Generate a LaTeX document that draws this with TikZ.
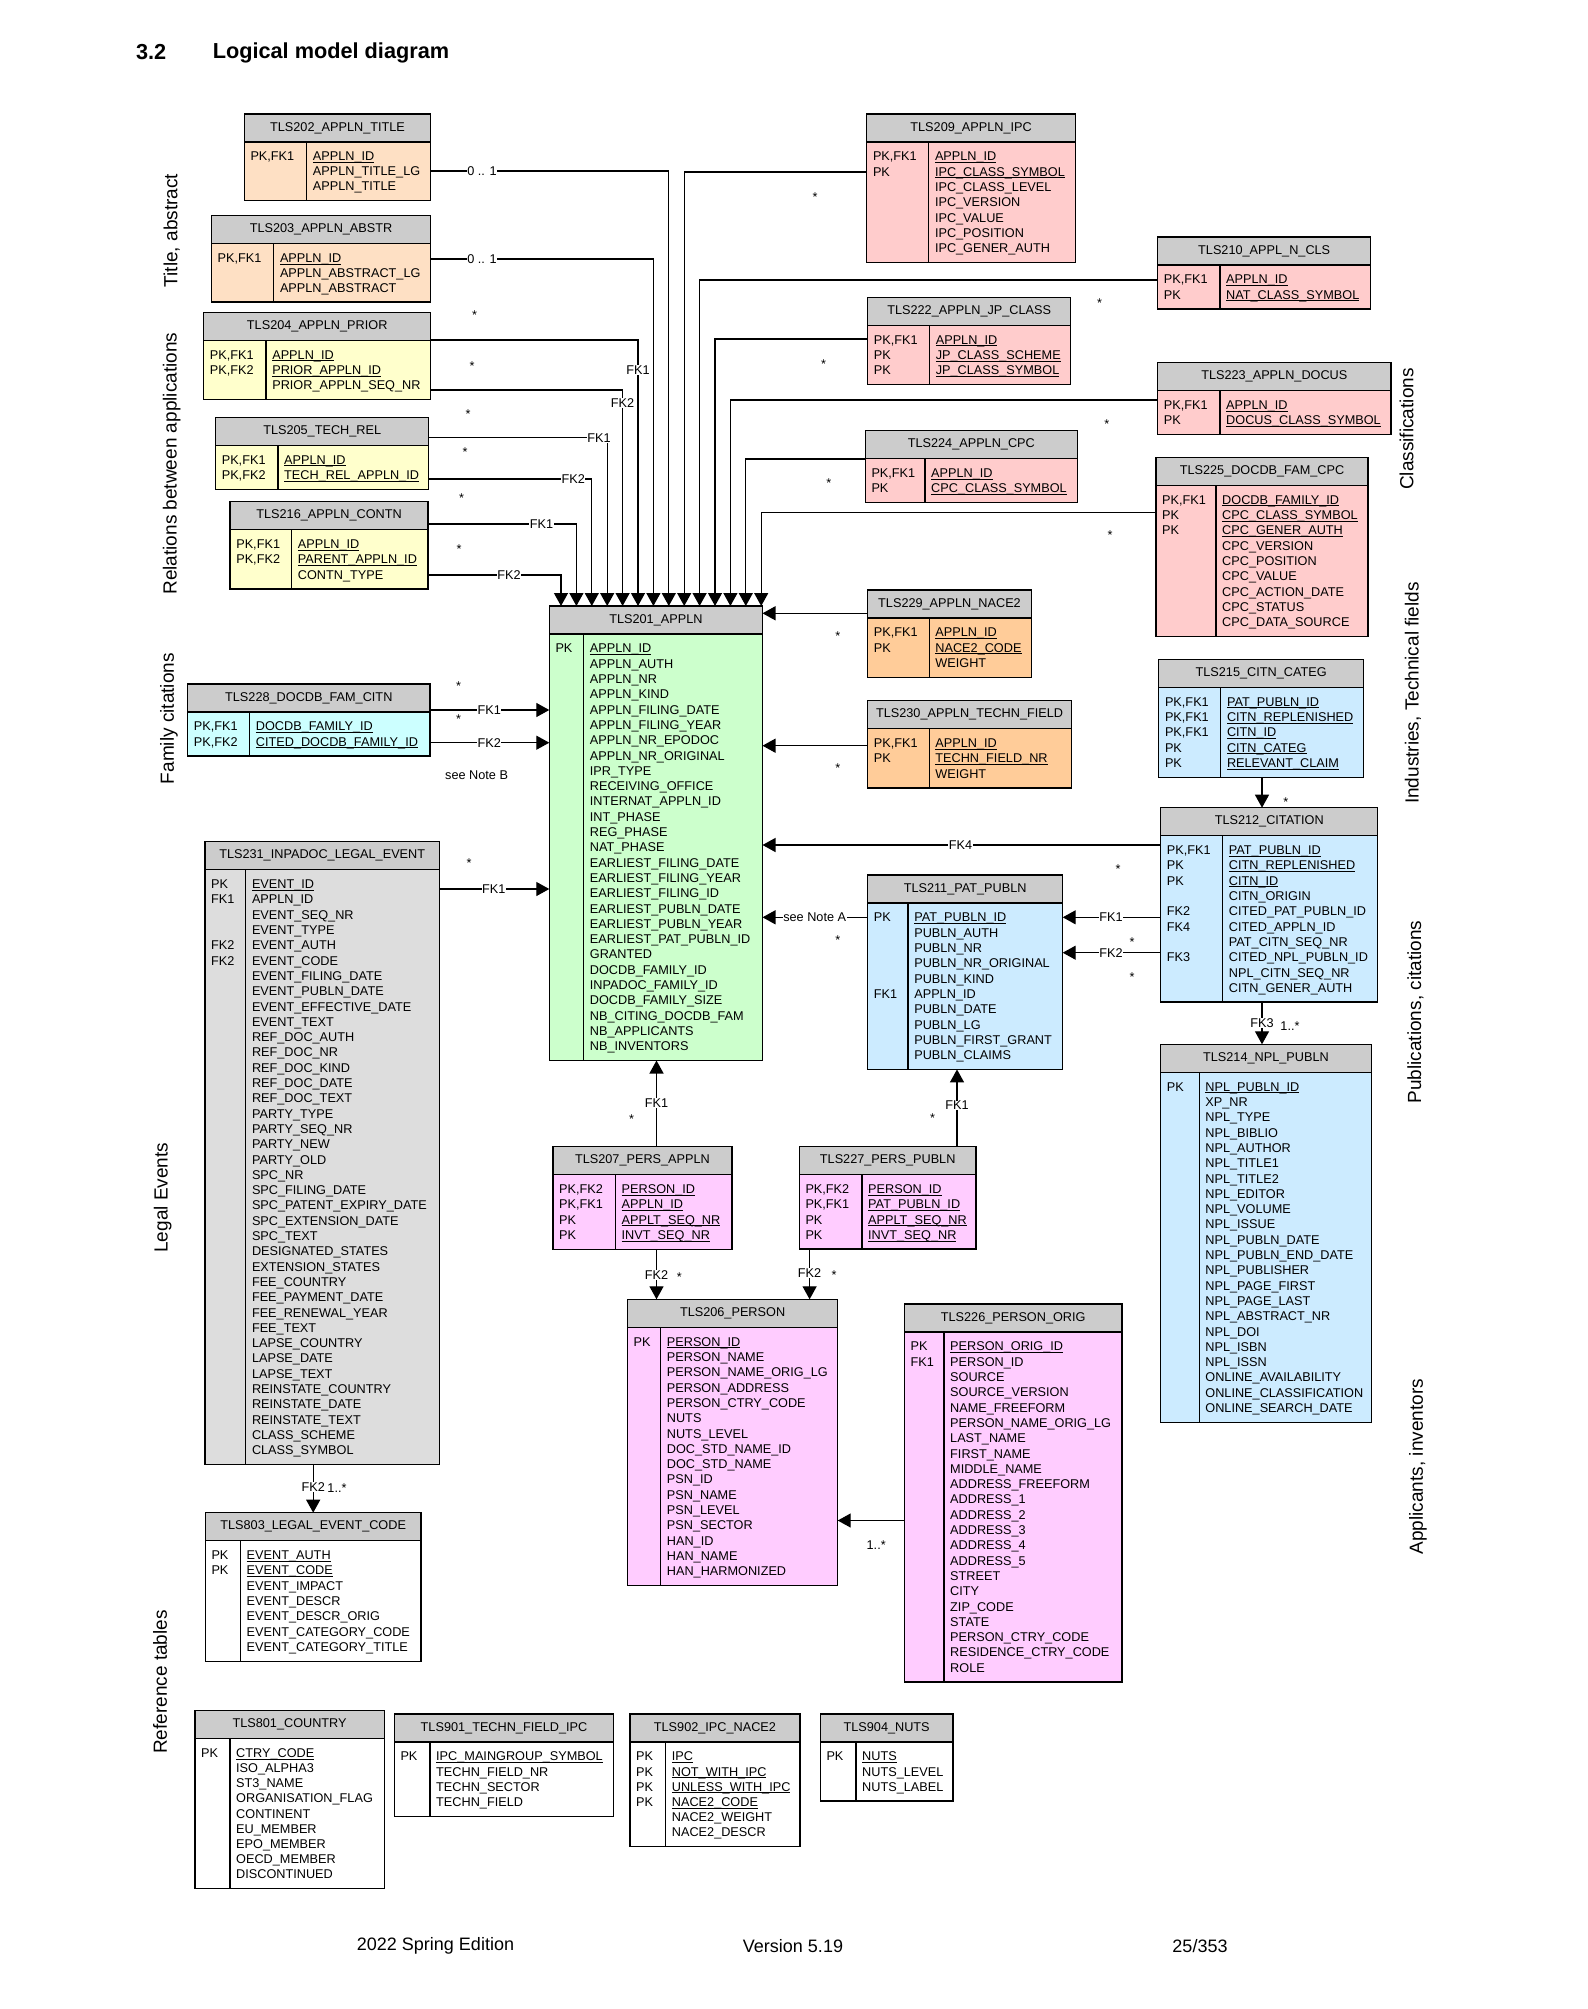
\documentclass[tikz,border=0pt]{standalone}
\usepackage{fontspec}
\setmainfont{Liberation Sans}
\usepackage{tikz}
\usetikzlibrary{arrows.meta,backgrounds}

\definecolor{hdrgray}{HTML}{CCCCCC}
\definecolor{peach}{HTML}{FEE0C4}
\definecolor{lemon}{HTML}{FFFFCC}
\definecolor{rose}{HTML}{FFCCCC}
\definecolor{apricot}{HTML}{FFCC99}
\definecolor{mint}{HTML}{CCFFCC}
\definecolor{aqua}{HTML}{CCFFFF}
\definecolor{ash}{HTML}{DDDDDD}
\definecolor{sky}{HTML}{CCEBFF}
\definecolor{lilac}{HTML}{FFCCFF}

\newcommand{\rowh}{15.3}
\newcommand{\boxtint}{white}
\newcommand{\tblfont}{\fontsize{12.7}{\rowh}\selectfont}
\newcommand{\lblfont}{\fontsize{12.7}{15}\selectfont}
\newcommand{\sidefont}{\fontsize{19}{22}\selectfont}
\newcommand{\headfont}{\fontsize{21.7}{26}\selectfont\bfseries}
\newcommand{\footfont}{\fontsize{18}{21}\selectfont}
\newcommand{\pk}[1]{\leavevmode\setbox0=\hbox{#1}\rlap{\rule[-2pt]{\wd0}{0.8pt}}\box0}

\tikzset{
  rowh/.store in=\rowh,
  bodycol/.store in=\boxtint,
  box/.style={line width=1.3pt},
  hdr/.style={box, draw, fill=hdrgray, minimum height=28, inner sep=0, outer sep=0,
    anchor=north west, font=\tblfont},
  col/.style={inner sep=0, anchor=north west, font=\tblfont},
  fk/.style={line width=1.3pt, -{Triangle[length=13pt,width=14pt]}},
  lbl/.style={fill=white, inner sep=0.6pt, font=\lblfont},
  mult/.style={inner sep=0, font=\lblfont},
  star/.style={inner sep=0, font=\lblfont, yshift=-2.5pt},
  side/.style={rotate=90, inner sep=0, font=\sidefont},
}

% #1 name, #2 x, #3 y, #4 width, #5 key column, #6 options, #7 title, #8 keys, #9 fields
\newcommand{\entity}[9]{%
  \begin{scope}[#6]
    \node[hdr, minimum width=#4] (#1) at (#2,#3) {#7};
    \node[col] (#1-k) at (#2+6,#3+36) {\begin{tabular}{@{}l@{}}#8\end{tabular}};
    \node[col] (#1-f) at (#2+#5+6,#3+36) {\begin{tabular}{@{}l@{}}#9\end{tabular}};
    \coordinate (#1-b) at ([yshift=-5pt]#1-f.south);
    \coordinate (#1-d) at (#2+#5,#3+28);
    \begin{pgfonlayer}{background}
      \draw[box, fill=\boxtint] (#1.south west) rectangle (#1.east |- #1-b);
    \end{pgfonlayer}
    \draw[box] (#1-d) -- (#1-d |- #1-b);
  \end{scope}}

\begin{document}
\begin{tikzpicture}[x=1pt,y=-1pt]
  \useasboundingbox (0,0) rectangle (1587,2009);

  \node[anchor=west, inner sep=0, font=\headfont] (sec) at (135.8,52.5) {3.2};
  \node[anchor=west, inner sep=0, font=\headfont] (ttl) at (212.6,52.5) {Logical model diagram};

  % title, abstract and relations
  \entity{t202}{244.3}{114}{186.4}{62.4}{bodycol=peach, rowh=15}{TLS202\_APPLN\_TITLE}
    {PK,FK1}{\pk{APPLN\_ID}\\APPLN\_TITLE\_LG\\APPLN\_TITLE}
  \entity{t203}{211.4}{215.7}{219.3}{62.4}{bodycol=peach, rowh=15}{TLS203\_APPLN\_ABSTR}
    {PK,FK1}{\pk{APPLN\_ID}\\APPLN\_ABSTRACT\_LG\\APPLN\_ABSTRACT}
  \entity{t204}{203.7}{312.3}{227}{62.4}{bodycol=lemon}{TLS204\_APPLN\_PRIOR}
    {PK,FK1\\PK,FK2}{\pk{APPLN\_ID}\\\pk{PRIOR\_APPLN\_ID}\\PRIOR\_APPLN\_SEQ\_NR}
  \entity{t205}{215.6}{417.3}{213.2}{62.4}{bodycol=lemon}{TLS205\_TECH\_REL}
    {PK,FK1\\PK,FK2}{\pk{APPLN\_ID}\\\pk{TECH\_REL\_APPLN\_ID}}
  \entity{t216}{230.1}{501.7}{197.9}{61.6}{bodycol=lemon}{TLS216\_APPLN\_CONTN}
    {PK,FK1\\PK,FK2}{\pk{APPLN\_ID}\\\pk{PARENT\_APPLN\_ID}\\CONTN\_TYPE}

  % classifications
  \entity{t209}{866.8}{114}{208.6}{62}{bodycol=rose}{TLS209\_APPLN\_IPC}
    {PK,FK1\\PK}{\pk{APPLN\_ID}\\\pk{IPC\_CLASS\_SYMBOL}\\IPC\_CLASS\_LEVEL\\IPC\_VERSION\\IPC\_VALUE\\IPC\_POSITION\\IPC\_GENER\_AUTH}
  \entity{t210}{1157.6}{237}{213.2}{62.4}{bodycol=rose}{TLS210\_APPL\_N\_CLS}
    {PK,FK1\\PK}{\pk{APPLN\_ID}\\\pk{NAT\_CLASS\_SYMBOL}}
  \entity{t222}{867.6}{297.2}{203.2}{62}{bodycol=rose}{TLS222\_APPLN\_JP\_CLASS}
    {PK,FK1\\PK\\PK}{\pk{APPLN\_ID}\\\pk{JP\_CLASS\_SCHEME}\\\pk{JP\_CLASS\_SYMBOL}}
  \entity{t223}{1157.6}{362.5}{233.4}{62.4}{bodycol=rose}{TLS223\_APPLN\_DOCUS}
    {PK,FK1\\PK}{\pk{APPLN\_ID}\\\pk{DOCUS\_CLASS\_SYMBOL}}
  \entity{t224}{865.3}{430.4}{212}{59.7}{bodycol=rose}{TLS224\_APPLN\_CPC}
    {PK,FK1\\PK}{\pk{APPLN\_ID}\\\pk{CPC\_CLASS\_SYMBOL}}
  \entity{t225}{1156}{457.3}{212}{60}{bodycol=rose}{TLS225\_DOCDB\_FAM\_CPC}
    {PK,FK1\\PK\\PK}{\pk{DOCDB\_FAMILY\_ID}\\\pk{CPC\_CLASS\_SYMBOL}\\\pk{CPC\_GENER\_AUTH}\\CPC\_VERSION\\CPC\_POSITION\\CPC\_VALUE\\CPC\_ACTION\_DATE\\CPC\_STATUS\\CPC\_DATA\_SOURCE}

  % industries, technical fields
  \entity{t229}{867.6}{590}{163.8}{61.6}{bodycol=apricot}{TLS229\_APPLN\_NACE2}
    {PK,FK1\\PK}{\pk{APPLN\_ID}\\\pk{NACE2\_CODE}\\WEIGHT}
  \entity{t230}{867.6}{700.7}{203.9}{61.6}{bodycol=apricot}{TLS230\_APPLN\_TECHN\_FIELD}
    {PK,FK1\\PK}{\pk{APPLN\_ID}\\\pk{TECHN\_FIELD\_NR}\\WEIGHT}

  % applications
  \entity{t201}{549.3}{606}{213.2}{34.4}{bodycol=mint}{TLS201\_APPLN}
    {PK}{\pk{APPLN\_ID}\\APPLN\_AUTH\\APPLN\_NR\\APPLN\_KIND\\APPLN\_FILING\_DATE\\APPLN\_FILING\_YEAR\\APPLN\_NR\_EPODOC\\APPLN\_NR\_ORIGINAL\\IPR\_TYPE\\RECEIVING\_OFFICE\\INTERNAT\_APPLN\_ID\\INT\_PHASE\\REG\_PHASE\\NAT\_PHASE\\EARLIEST\_FILING\_DATE\\EARLIEST\_FILING\_YEAR\\EARLIEST\_FILING\_ID\\EARLIEST\_PUBLN\_DATE\\EARLIEST\_PUBLN\_YEAR\\EARLIEST\_PAT\_PUBLN\_ID\\GRANTED\\DOCDB\_FAMILY\_ID\\INPADOC\_FAMILY\_ID\\DOCDB\_FAMILY\_SIZE\\NB\_CITING\_DOCDB\_FAM\\NB\_APPLICANTS\\NB\_INVENTORS}

  % family citations, legal events
  \entity{t228}{187.7}{684}{242.2}{62}{bodycol=aqua}{TLS228\_DOCDB\_FAM\_CITN}
    {PK,FK1\\PK,FK2}{\pk{DOCDB\_FAMILY\_ID}\\\pk{CITED\_DOCDB\_FAMILY\_ID}}
  \entity{t231}{204.9}{841.7}{234.6}{40.9}{bodycol=ash}{TLS231\_INPADOC\_LEGAL\_EVENT}
    {PK\\FK1\\\\\\FK2\\FK2}{\pk{EVENT\_ID}\\APPLN\_ID\\EVENT\_SEQ\_NR\\EVENT\_TYPE\\EVENT\_AUTH\\EVENT\_CODE\\EVENT\_FILING\_DATE\\EVENT\_PUBLN\_DATE\\EVENT\_EFFECTIVE\_DATE\\EVENT\_TEXT\\REF\_DOC\_AUTH\\REF\_DOC\_NR\\REF\_DOC\_KIND\\REF\_DOC\_DATE\\REF\_DOC\_TEXT\\PARTY\_TYPE\\PARTY\_SEQ\_NR\\PARTY\_NEW\\PARTY\_OLD\\SPC\_NR\\SPC\_FILING\_DATE\\SPC\_PATENT\_EXPIRY\_DATE\\SPC\_EXTENSION\_DATE\\SPC\_TEXT\\DESIGNATED\_STATES\\EXTENSION\_STATES\\FEE\_COUNTRY\\FEE\_PAYMENT\_DATE\\FEE\_RENEWAL\_YEAR\\FEE\_TEXT\\LAPSE\_COUNTRY\\LAPSE\_DATE\\LAPSE\_TEXT\\REINSTATE\_COUNTRY\\REINSTATE\_DATE\\REINSTATE\_TEXT\\CLASS\_SCHEME\\CLASS\_SYMBOL}
  \entity{t803}{205.3}{1512.7}{215.8}{35.2}{bodycol=white}{TLS803\_LEGAL\_EVENT\_CODE}
    {PK\\PK}{\pk{EVENT\_AUTH}\\\pk{EVENT\_CODE}\\EVENT\_IMPACT\\EVENT\_DESCR\\EVENT\_DESCR\_ORIG\\EVENT\_CATEGORY\_CODE\\EVENT\_CATEGORY\_TITLE}

  % publications, citations
  \entity{t215}{1158.8}{659.3}{204.7}{62}{bodycol=sky}{TLS215\_CITN\_CATEG}
    {PK,FK1\\PK,FK1\\PK,FK1\\PK\\PK}{\pk{PAT\_PUBLN\_ID}\\\pk{CITN\_REPLENISHED}\\\pk{CITN\_ID}\\\pk{CITN\_CATEG}\\\pk{RELEVANT\_CLAIM}}
  \entity{t212}{1160.7}{807.7}{217}{62}{bodycol=sky}{TLS212\_CITATION}
    {PK,FK1\\PK\\PK\\\\FK2\\FK4\\\\FK3}{\pk{PAT\_PUBLN\_ID}\\\pk{CITN\_REPLENISHED}\\\pk{CITN\_ID}\\CITN\_ORIGIN\\CITED\_PAT\_PUBLN\_ID\\CITED\_APPLN\_ID\\PAT\_CITN\_SEQ\_NR\\CITED\_NPL\_PUBLN\_ID\\NPL\_CITN\_SEQ\_NR\\CITN\_GENER\_AUTH}
  \entity{t214}{1160.7}{1044.3}{210.5}{38.5}{bodycol=sky}{TLS214\_NPL\_PUBLN}
    {PK}{\pk{NPL\_PUBLN\_ID}\\XP\_NR\\NPL\_TYPE\\NPL\_BIBLIO\\NPL\_AUTHOR\\NPL\_TITLE1\\NPL\_TITLE2\\NPL\_EDITOR\\NPL\_VOLUME\\NPL\_ISSUE\\NPL\_PUBLN\_DATE\\NPL\_PUBLN\_END\_DATE\\NPL\_PUBLISHER\\NPL\_PAGE\_FIRST\\NPL\_PAGE\_LAST\\NPL\_ABSTRACT\_NR\\NPL\_DOI\\NPL\_ISBN\\NPL\_ISSN\\ONLINE\_AVAILABILITY\\ONLINE\_CLASSIFICATION\\ONLINE\_SEARCH\_DATE}
  \entity{t211}{867.6}{875}{195.1}{40.5}{bodycol=sky}{TLS211\_PAT\_PUBLN}
    {PK\\\\\\\\\\FK1}{\pk{PAT\_PUBLN\_ID}\\PUBLN\_AUTH\\PUBLN\_NR\\PUBLN\_NR\_ORIGINAL\\PUBLN\_KIND\\APPLN\_ID\\PUBLN\_DATE\\PUBLN\_LG\\PUBLN\_FIRST\_GRANT\\PUBLN\_CLAIMS}

  % applicants, inventors
  \entity{t207}{553}{1146.7}{178.9}{62.5}{bodycol=lilac}{TLS207\_PERS\_APPLN}
    {PK,FK2\\PK,FK1\\PK\\PK}{\pk{PERSON\_ID}\\\pk{APPLN\_ID}\\\pk{APPLT\_SEQ\_NR}\\\pk{INVT\_SEQ\_NR}}
  \entity{t227}{799.3}{1146.5}{176.8}{62.7}{bodycol=lilac}{TLS227\_PERS\_PUBLN}
    {PK,FK2\\PK,FK1\\PK\\PK}{\pk{PERSON\_ID}\\\pk{PAT\_PUBLN\_ID}\\\pk{APPLT\_SEQ\_NR}\\\pk{INVT\_SEQ\_NR}}
  \entity{t206}{627.5}{1299.3}{210.2}{33.2}{bodycol=lilac}{TLS206\_PERSON}
    {PK}{\pk{PERSON\_ID}\\PERSON\_NAME\\PERSON\_NAME\_ORIG\_LG\\PERSON\_ADDRESS\\PERSON\_CTRY\_CODE\\NUTS\\NUTS\_LEVEL\\DOC\_STD\_NAME\_ID\\DOC\_STD\_NAME\\PSN\_ID\\PSN\_NAME\\PSN\_LEVEL\\PSN\_SECTOR\\HAN\_ID\\HAN\_NAME\\HAN\_HARMONIZED}
  \entity{t226}{904.4}{1304}{217.6}{39.6}{bodycol=lilac}{TLS226\_PERSON\_ORIG}
    {PK\\FK1}{\pk{PERSON\_ORIG\_ID}\\PERSON\_ID\\SOURCE\\SOURCE\_VERSION\\NAME\_FREEFORM\\PERSON\_NAME\_ORIG\_LG\\LAST\_NAME\\FIRST\_NAME\\MIDDLE\_NAME\\ADDRESS\_FREEFORM\\ADDRESS\_1\\ADDRESS\_2\\ADDRESS\_3\\ADDRESS\_4\\ADDRESS\_5\\STREET\\CITY\\ZIP\_CODE\\STATE\\PERSON\_CTRY\_CODE\\RESIDENCE\_CTRY\_CODE\\ROLE}

  % reference tables
  \entity{t801}{195}{1710.5}{189.2}{35}{bodycol=white, rowh=15.2}{TLS801\_COUNTRY}
    {PK}{\pk{CTRY\_CODE}\\ISO\_ALPHA3\\ST3\_NAME\\ORGANISATION\_FLAG\\CONTINENT\\EU\_MEMBER\\EPO\_MEMBER\\OECD\_MEMBER\\DISCONTINUED}
  \entity{t901}{394.3}{1714}{219.4}{35.7}{bodycol=white, rowh=15.2}{TLS901\_TECHN\_FIELD\_IPC}
    {PK}{\pk{IPC\_MAINGROUP\_SYMBOL}\\TECHN\_FIELD\_NR\\TECHN\_SECTOR\\TECHN\_FIELD}
  \entity{t902}{630}{1714}{169.9}{35.7}{bodycol=white, rowh=15.2}{TLS902\_IPC\_NACE2}
    {PK\\PK\\PK\\PK}{\pk{IPC}\\\pk{NOT\_WITH\_IPC}\\\pk{UNLESS\_WITH\_IPC}\\\pk{NACE2\_CODE}\\NACE2\_WEIGHT\\NACE2\_DESCR}
  \entity{t904}{820.3}{1714}{132.7}{35.7}{bodycol=white, rowh=15.2}{TLS904\_NUTS}
    {PK}{\pk{NUTS}\\NUTS\_LEVEL\\NUTS\_LABEL}

  % connectors into the top of TLS201
  \foreach \src/\dy/\i in {t202/57/7, t203/43.3/6, t204/27.7/5, t204/77.7/4,
                           t205/20.4/3, t205/61.7/2, t216/22.3/1, t216/73.3/0}
    \draw[fk] ([yshift={-\dy}]\src.north east) -| ([xshift={11.7+15.4*\i}]t201.north west);
  \foreach \src/\dy/\i in {t209/58/8, t210/43/9, t222/41.8/10, t223/37.5/11,
                           t224/28.6/12, t225/55.4/13}
    \draw[fk] ([yshift={-\dy}]\src.north west) -| ([xshift={11.7+15.4*\i}]t201.north west);

  % connectors into the sides of TLS201
  \foreach \src/\dy/\nm in {t228/26/a1, t228/58.7/a2, t231/47.3/a3} {
    \coordinate (\nm) at ([yshift={-\dy}]\src.north east);
    \draw[fk] (\nm) -- (\nm -| t201.west);
  }
  \foreach \src/\dy/\nm in {t229/23.3/b1, t230/45/b2, t212/37.3/b3, t211/42.3/b4} {
    \coordinate (\nm) at ([yshift={-\dy}]\src.north west);
    \draw[fk] (\nm) -- (\nm -| t201.east);
  }
  \foreach \dy/\nm in {109.6/c1, 145/c2} {
    \coordinate (\nm) at ([yshift={-\dy}]t212.north west);
    \draw[fk] (\nm) -- (\nm -| t211.east);
  }

  % vertical connectors
  \coordinate (v1) at ([xshift=103.5pt]t207.north west);
  \draw[fk] (v1) -- (v1 |- t201-b);
  \coordinate (v2) at ([xshift=157.7pt]t227.north west);
  \draw[fk] (v2) -- (v2 |- t211-b);
  \coordinate (v3) at (v1 |- t207-b);
  \draw[fk] (v3) -- (v3 |- t206.north);
  \coordinate (v4) at ([xshift=10.3pt]t227.north west);
  \draw[fk] (v4 |- t227-b) -- (v4 |- t206.north);
  \coordinate (v5) at ([yshift=-216.5pt]t226.north west);
  \draw[fk] (v5) -- (v5 -| t206.east);
  \coordinate (v6) at ([xshift=108.3pt]t231.north west);
  \draw[fk] (v6 |- t231-b) -- (v6 |- t803.north);
  \coordinate (v7) at ([xshift=103.2pt]t215.north west);
  \draw[fk] (v7 |- t215-b) -- (v7 |- t212.north);
  \coordinate (v8) at ([xshift=101.3pt]t212.north west);
  \draw[fk] (v8 |- t212-b) -- (v8 |- t214.north);

  % connector labels
  \node[lbl] (n1) at (482,171) {0 .. 1};
  \node[lbl] (n2) at (482,259) {0 .. 1};
  \node[lbl] (n3) at (638,370) {FK1};
  \node[lbl] (n4) at (622.6,402.7) {FK2};
  \node[lbl] (n5) at (599,437.7) {FK1};
  \node[lbl] (n6) at (573.2,479) {FK2};
  \node[lbl] (n7) at (541.6,524) {FK1};
  \node[lbl] (n8) at (509,575) {FK2};
  \node[lbl] (n9) at (489.2,710) {FK1};
  \node[lbl] (n10) at (489.2,742.7) {FK2};
  \node[lbl] (n11) at (493.8,889) {FK1};
  \node[lbl] (n12) at (960.5,845) {FK4};
  \node[lbl] (n13) at (814.7,917.3) {see Note A};
  \node[lbl] (n14) at (1111,917.3) {FK1};
  \node[lbl] (n15) at (1111,952.7) {FK2};
  \node[lbl] (n16) at (656.5,1102.7) {FK1};
  \node[lbl] (n17) at (957,1105.5) {FK1};
  \node[lbl] (n18) at (656.5,1275) {FK2};
  \node[lbl] (n19) at (809.6,1273.3) {FK2};
  \node[lbl] (n20) at (313.2,1486.7) {FK2};
  \node[lbl] (n21) at (1262,1022.7) {FK3};
  \node[mult] (nb) at (476.6,775) {see Note B};
  \node[mult] (m1) at (337,1488) {1..*};
  \node[mult] (m2) at (1290,1026) {1..*};
  \node[mult] (m3) at (876.2,1545) {1..*};

  % multiplicities
  \foreach \px/\py [count=\k] in {474.7/312.3, 472/363.5, 468/411.5, 465/450, 461.5/495.5,
      459/547, 458.6/683.5, 458.6/717, 469/861, 815/195, 1099.5/301, 823.7/361.2,
      1106.8/421.5, 828.8/480.4, 1110/533, 837.8/634, 837.8/766, 837.8/937.7,
      1118/867, 1132/940, 1132/975, 1285.8/800, 631.6/1116.7, 932.6/1115.7,
      679.4/1275, 834/1273}
    \node[star] (st\k) at (\px,\py) {*};

  % group labels
  \node[side] (s1) at (171.7,230.6) {Title, abstract};
  \node[side] (s2) at (171.7,463.7) {Relations between applications};
  \node[side] (s3) at (169,718.6) {Family citations};
  \node[side] (s4) at (162.7,1197.7) {Legal Events};
  \node[side] (s5) at (160,1682) {Reference tables};
  \node[side] (s6) at (1406.5,429) {Classifications};
  \node[side] (s7) at (1413,693) {Industries, Technical fields};
  \node[side] (s8) at (1415.5,1012) {Publications, citations};
  \node[side] (s9) at (1418,1466.7) {Applicants, inventors};

  \node[font=\footfont] (f1) at (435.5,1945.8) {2022 Spring Edition};
  \node[font=\footfont] (f2) at (793,1945.8) {Version 5.19};
  \node[font=\footfont] (f3) at (1200,1945.8) {25/353};
\end{tikzpicture}
\end{document}
